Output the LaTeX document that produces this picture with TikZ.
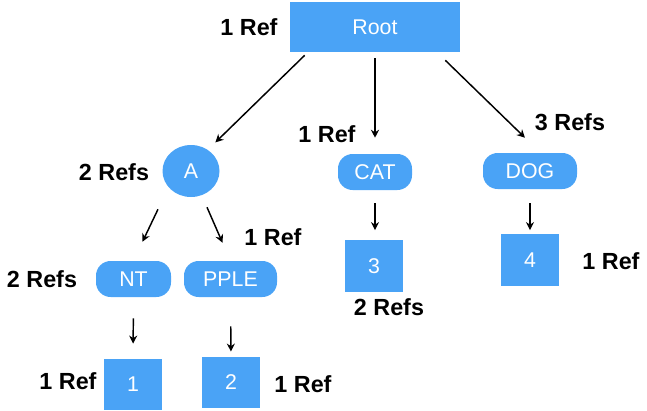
\documentclass[tikz,border=0pt]{standalone}
\usepackage{fontspec}
\setmainfont{Liberation Sans}
\usetikzlibrary{arrows.meta, shapes.geometric}
\definecolor{nodeblue}{RGB}{74,163,246}

\tikzset{
  trienode/.style={fill=nodeblue, text=white, inner sep=0pt, font=\fontsize{16}{19}\selectfont},
  leafbox/.style={trienode, minimum width=43.5pt, minimum height=38.5pt},
  keypill/.style={trienode, rounded corners=11pt, minimum height=27pt},
  refcount/.style={font=\bfseries\fontsize{17.5}{20}\selectfont},
  link/.style={-{Stealth[length=6pt,width=6pt]}, line width=1.1pt}
}

\begin{document}
\begin{tikzpicture}[x=0.75pt, y=-0.75pt]
\useasboundingbox (0,0) rectangle (647,411);
% nodes
\node[trienode, minimum width=127.5pt, minimum height=37.5pt] (root) at (375,27) {Root};
\node[trienode, ellipse, minimum width=42.75pt, minimum height=39pt] (a) at (191,171) {A};
\node[keypill, minimum width=55.5pt] (cat) at (375,172) {CAT};
\node[keypill, minimum width=70.5pt] (dog) at (530,171) {DOG};
\node[keypill, minimum width=56.25pt] (nt) at (133.5,279) {NT};
\node[keypill, minimum width=69.75pt] (pple) at (230.5,279) {PPLE};
\node[leafbox] (v3) at (374,266) {3};
\node[leafbox] (v4) at (530,260) {4};
\node[leafbox] (v1) at (133,384.5) {1};
\node[leafbox] (v2) at (231,382.5) {2};
% reference counts
\node[refcount] (rcroot) at (249,27) {1 Ref};
\node[refcount] (rca) at (114,172) {2 Refs};
\node[refcount] (rccat) at (327,134) {1 Ref};
\node[refcount] (rcdog) at (570,122) {3 Refs};
\node[refcount] (rcpple) at (273,237) {1 Ref};
\node[refcount] (rcnt) at (42,279) {2 Refs};
\node[refcount] (rc3) at (389,307) {2 Refs};
\node[refcount] (rc4) at (611,261) {1 Ref};
\node[refcount] (rc1) at (68,381) {1 Ref};
\node[refcount] (rc2) at (303,384) {1 Ref};
% edges
\draw[link] ([shift={(15,3)}]root.south west) -- ([shift={(4,-10)}]a.north east);
\draw[link, shorten <=4.5pt, shorten >=12pt] (root.south) -- (cat.north);
\draw[link] ([shift={(-15,8)}]root.south east) -- ([shift={(-5,-15)}]dog.north);
\draw[link] ([shift={(-33,12)}]a.south) -- ([shift={(9,-19)}]nt.north);
\draw[link] ([shift={(16,10)}]a.south) -- ([shift={(-8,-18)}]pple.north);
\draw[link, shorten <=15.75pt, shorten >=11.25pt] (nt.south) -- (v1.north);
\draw[link, shorten <=21.75pt, shorten >=3.75pt] (pple.south) -- (v2.north);
\draw[link, shorten <=9.75pt, shorten >=7.5pt] (cat.south) -- (cat.south |- v3.north);
\draw[link, shorten <=10.5pt, shorten >=3pt] (dog.south) -- (v4.north);
\end{tikzpicture}
\end{document}
